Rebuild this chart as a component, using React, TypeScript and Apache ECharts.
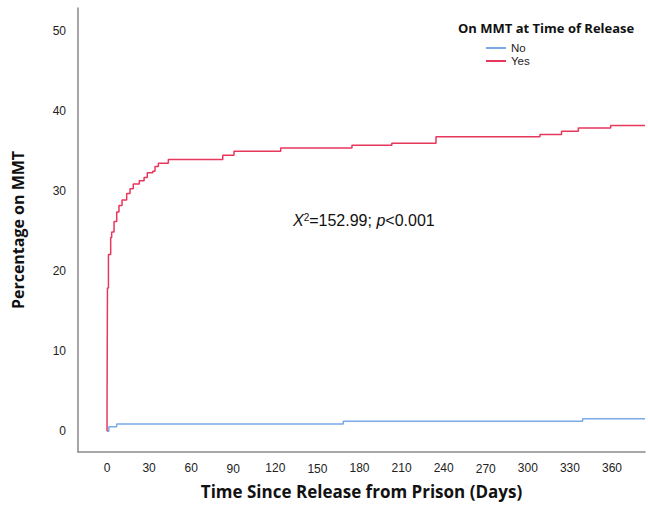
import React, { useEffect, useRef } from "react";
import * as echarts from "echarts";

// Kaplan–Meier style cumulative curves: [day, percentage]
const yesDays = [0, 0, 0.3, 1.0, 2.6, 3.3, 5.0, 6.9, 8.5, 10.7, 14.0, 16.4, 18.7, 23.0, 26.4, 28.7, 32.6, 34.2, 36.6, 43.7, 82.5, 90.5, 123.8, 174.6, 203.0, 234.5, 308.6, 324.0, 336.0, 359.0, 383.5];
const yesValues = [0, 3.4, 17.9, 22.1, 24.2, 24.9, 26.2, 27.4, 28.2, 28.9, 29.7, 30.3, 30.9, 31.3, 31.7, 32.3, 32.5, 33.1, 33.5, 33.95, 34.5, 35.0, 35.4, 35.75, 36.0, 36.8, 37.1, 37.5, 37.9, 38.2, 38.2];
const noDays = [0, 1.3, 6.9, 168.4, 339.0, 383.5];
const noValues = [0, 0.55, 0.9, 1.25, 1.55, 1.55];

const xTicks = [0, 30, 60, 90, 120, 150, 180, 210, 240, 270, 300, 330, 360];
const xTicksLowered = [90, 150, 270];
const yTicks = [0, 10, 20, 30, 40, 50];

const seriesNames = ["No", "Yes"];
const seriesColors = ["#7aaae8", "#e8375c"];

export default function App() {
  const ref = useRef<HTMLDivElement>(null);
  useEffect(() => {
    if (!ref.current) return;
    const chart = echarts.init(ref.current, undefined, { renderer: "svg" });
    const zip = (xs: number[], ys: number[]) => xs.map((x, i) => [x, ys[i]]);
    chart.setOption({
      animation: false,
      backgroundColor: "#ffffff",
      grid: { left: 78, right: 3, top: 8, bottom: 54, containLabel: false },
      title: {
        text: "On MMT at Time of Release",
        left: 458,
        top: 21,
        padding: 0,
        textStyle: { fontFamily: "Open Sans", fontWeight: "bold", fontSize: 13, color: "#111" },
      },
      legend: {
        orient: "vertical",
        left: 486,
        top: 42,
        padding: 0,
        itemGap: 1,
        itemWidth: 20,
        itemHeight: 2,
        icon: "rect",
        data: seriesNames,
        textStyle: { fontFamily: "Liberation Sans", fontSize: 11.5, color: "#222", lineHeight: 12 },
      },
      xAxis: {
        type: "value",
        min: -20.7,
        max: 383.5,
        name: "Time Since Release from Prison (Days)",
        nameLocation: "middle",
        nameGap: 31,
        nameTextStyle: { fontFamily: "Open Sans", fontWeight: "bold", fontSize: 17, color: "#111" },
        axisLine: { show: true, onZero: false, lineStyle: { color: "#8a8a8a", width: 1.5 } },
        axisTick: { show: false },
        splitLine: { show: false },
        axisLabel: {
          customValues: xTicks,
          margin: 10,
          fontFamily: "Liberation Sans",
          fontSize: 12,
          color: "#222",
          formatter: (v: number) => (xTicksLowered.includes(v) ? `{lo|${v}}` : `${v}`),
          rich: { lo: { fontFamily: "Liberation Sans", fontSize: 12, color: "#222", padding: [1, 0, 0, 0] } },
        },
      },
      yAxis: {
        type: "value",
        min: -2.6,
        max: 52.9,
        name: "Percentage on MMT",
        nameLocation: "middle",
        nameGap: 52,
        nameTextStyle: { fontFamily: "Open Sans", fontWeight: "bold", fontSize: 16, color: "#111" },
        axisLine: { show: true, onZero: false, lineStyle: { color: "#8a8a8a", width: 1.5 } },
        axisTick: { show: false },
        splitLine: { show: false },
        axisLabel: {
          customValues: yTicks,
          margin: 12,
          fontFamily: "Liberation Sans",
          fontSize: 12,
          color: "#222",
        },
      },
      graphic: [
        {
          type: "text",
          left: 293,
          top: 212,
          style: {
            text: "{i|X}{s|2}=152.99; {i|p}<0.001",
            fontFamily: "Liberation Sans",
            fontSize: 16,
            fill: "#111",
            rich: {
              i: { fontFamily: "Liberation Sans", fontSize: 16, fontStyle: "italic", fill: "#111" },
              s: { fontFamily: "Liberation Sans", fontSize: 10, fill: "#111", padding: [0, 0, 6, 0] },
            },
          },
        },
      ],
      series: [
        {
          name: seriesNames[0],
          type: "line",
          step: "end",
          showSymbol: false,
          symbol: "none",
          data: zip(noDays, noValues),
          lineStyle: { color: seriesColors[0], width: 1.5 },
          itemStyle: { color: seriesColors[0] },
        },
        {
          name: seriesNames[1],
          type: "line",
          step: "end",
          showSymbol: false,
          symbol: "none",
          data: zip(yesDays, yesValues),
          lineStyle: { color: seriesColors[1], width: 1.5 },
          itemStyle: { color: seriesColors[1] },
        },
      ],
    });
    return () => chart.dispose();
  }, []);
  return <div ref={ref} style={{ width: 648, height: 506, position: "absolute", left: 0, top: 0 }} />;
}
